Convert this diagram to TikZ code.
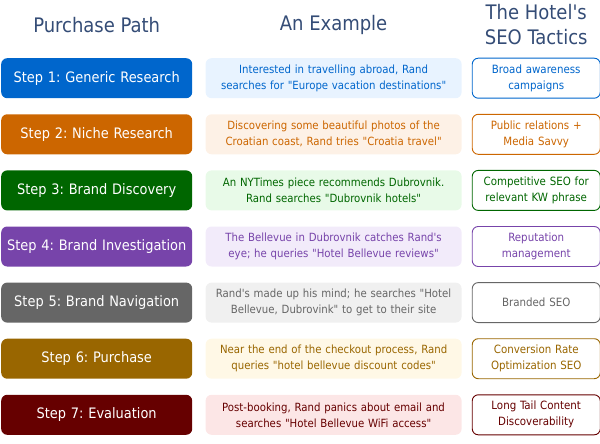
\documentclass[tikz,border=0pt]{standalone}
\usepackage{fontspec}
\setmainfont{DejaVu Sans Condensed}[Ligatures=TeXOff]
\usetikzlibrary{positioning}
\frenchspacing
\definecolor{headblue}{RGB}{52,76,118}
\definecolor{stepone}{RGB}{0,102,204}
\definecolor{steptwo}{RGB}{204,102,0}
\definecolor{stepthree}{RGB}{0,102,0}
\definecolor{stepfour}{RGB}{119,68,170}
\definecolor{stepfive}{RGB}{102,102,102}
\definecolor{stepsix}{RGB}{153,102,0}
\definecolor{stepseven}{RGB}{102,0,0}
\definecolor{exone}{RGB}{232,243,255}
\definecolor{extwo}{RGB}{253,241,230}
\definecolor{exthree}{RGB}{232,250,232}
\definecolor{exfour}{RGB}{242,235,250}
\definecolor{exfive}{RGB}{240,240,240}
\definecolor{exsix}{RGB}{255,248,230}
\definecolor{exseven}{RGB}{252,230,230}

\begin{document}
\begin{tikzpicture}[
    x=1pt, y=1pt,
    node distance=15.7pt and 13pt,
    box/.style={rectangle, rounded corners=6pt, align=center,
                minimum height=40pt, inner sep=2pt},
    stepbox/.style={box, text width=187pt, text=white,
                    font=\fontsize{14.4}{16}\selectfont},
    examplebox/.style={box, text width=252pt,
                       font=\fontsize{11.3}{16}\selectfont},
    tacticbox/.style={box, draw, fill=white, line width=0.9pt,
                      text width=124pt,
                      font=\fontsize{11.4}{16}\selectfont},
    head/.style={font=\fontsize{20}{25}\selectfont, text=headblue,
                 align=center},
]
\useasboundingbox (0,0) rectangle (600,-444);

\node[stepbox, fill=stepone, anchor=north west] (step1) at (1,-58)
     {Step 1: Generic Research};
\node[examplebox, fill=exone, text=stepone, right=of step1] (ex1)
     {Interested in travelling abroad, Rand\\
      searches for "Europe vacation destinations"};
\node[tacticbox, draw=stepone, text=stepone, right=10pt of ex1] (seo1)
     {Broad awareness\\campaigns};

\node[stepbox, fill=steptwo, below=of step1] (step2)
     {Step 2: Niche Research};
\node[examplebox, fill=extwo, text=steptwo, right=of step2] (ex2)
     {Discovering some beautiful photos of the\\
      Croatian coast, Rand tries "Croatia travel"};
\node[tacticbox, draw=steptwo, text=steptwo, right=10pt of ex2] (seo2)
     {Public relations +\\Media Savvy};

\node[stepbox, fill=stepthree, below=of step2] (step3)
     {Step 3: Brand Discovery};
\node[examplebox, fill=exthree, text=stepthree, right=of step3] (ex3)
     {An NYTimes piece recommends Dubrovnik.\\
      Rand searches "Dubrovnik hotels"};
\node[tacticbox, draw=stepthree, text=stepthree, right=10pt of ex3] (seo3)
     {Competitive SEO for\\relevant KW phrase};

\node[stepbox, fill=stepfour, below=of step3] (step4)
     {Step 4: Brand Investigation};
\node[examplebox, fill=exfour, text=stepfour, right=of step4] (ex4)
     {The Bellevue in Dubrovnik catches Rand's\\
      eye; he queries "Hotel Bellevue reviews"};
\node[tacticbox, draw=stepfour, text=stepfour, right=10pt of ex4] (seo4)
     {Reputation\\management};

\node[stepbox, fill=stepfive, below=of step4] (step5)
     {Step 5: Brand Navigation};
\node[examplebox, fill=exfive, text=stepfive, right=of step5] (ex5)
     {Rand's made up his mind; he searches "Hotel\\
      Bellevue, Dubrovink" to get to their site};
\node[tacticbox, draw=stepfive, text=stepfive, right=10pt of ex5] (seo5)
     {Branded SEO};

\node[stepbox, fill=stepsix, below=of step5] (step6)
     {Step 6: Purchase};
\node[examplebox, fill=exsix, text=stepsix, right=of step6] (ex6)
     {Near the end of the checkout process, Rand\\
      queries "hotel bellevue discount codes"};
\node[tacticbox, draw=stepsix, text=stepsix, right=10pt of ex6] (seo6)
     {Conversion Rate\\Optimization SEO};

\node[stepbox, fill=stepseven, below=of step6] (step7)
     {Step 7: Evaluation};
\node[examplebox, fill=exseven, text=stepseven, right=of step7] (ex7)
     {Post-booking, Rand panics about email and\\
      searches "Hotel Bellevue WiFi access"};
\node[tacticbox, draw=stepseven, text=stepseven, right=10pt of ex7] (seo7)
     {Long Tail Content\\Discoverability};

\node[head] (hpath) at (step1 |- 0,-25) {Purchase Path};
\node[head] (hexample) at (ex1 |- hpath) {An Example};
\node[head] (hseo) at (seo1 |- hpath) {The Hotel's\\SEO Tactics};

\end{tikzpicture}
\end{document}
